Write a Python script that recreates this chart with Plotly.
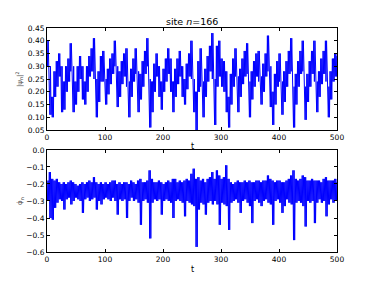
import numpy as np
import plotly.graph_objects as go

# Sample times of the envelope readings (every 4 time units)
t_env = list(range(0, 501, 4))

# |psi_n|^2 : upper / lower edge of the dense trace, read at t_env
psi2_hi = [
    0.40, 0.30, 0.18, 0.28, 0.32, 0.35, 0.30, 0.24, 0.30, 0.33,
    0.39, 0.30, 0.24, 0.30, 0.34, 0.30, 0.24, 0.30, 0.34, 0.37,
    0.41, 0.25, 0.28, 0.34, 0.36, 0.25, 0.29, 0.33, 0.35, 0.40,
    0.30, 0.28, 0.32, 0.35, 0.37, 0.24, 0.29, 0.33, 0.37, 0.28,
    0.27, 0.32, 0.36, 0.41, 0.25, 0.24, 0.31, 0.35, 0.30, 0.24,
    0.29, 0.33, 0.37, 0.33, 0.24, 0.29, 0.33, 0.36, 0.30, 0.25,
    0.31, 0.35, 0.40, 0.25, 0.20, 0.32, 0.37, 0.24, 0.29, 0.34,
    0.38, 0.43, 0.25, 0.38, 0.40, 0.33, 0.32, 0.28, 0.18, 0.27,
    0.33, 0.37, 0.26, 0.29, 0.33, 0.36, 0.39, 0.24, 0.28, 0.32,
    0.35, 0.36, 0.26, 0.31, 0.35, 0.42, 0.30, 0.20, 0.27, 0.32,
    0.35, 0.24, 0.28, 0.32, 0.36, 0.41, 0.22, 0.27, 0.32, 0.36,
    0.40, 0.22, 0.27, 0.32, 0.36, 0.40, 0.24, 0.28, 0.33, 0.36,
    0.40, 0.22, 0.28, 0.33, 0.35, 0.34,
]
psi2_lo = [
    0.30, 0.11, 0.10, 0.18, 0.22, 0.26, 0.12, 0.13, 0.20, 0.24,
    0.28, 0.12, 0.15, 0.20, 0.25, 0.17, 0.15, 0.20, 0.26, 0.28,
    0.25, 0.10, 0.16, 0.24, 0.24, 0.15, 0.19, 0.23, 0.27, 0.30,
    0.14, 0.18, 0.23, 0.26, 0.22, 0.10, 0.18, 0.24, 0.27, 0.12,
    0.17, 0.22, 0.27, 0.30, 0.06, 0.12, 0.20, 0.26, 0.18, 0.13,
    0.20, 0.24, 0.27, 0.20, 0.12, 0.18, 0.23, 0.26, 0.18, 0.15,
    0.21, 0.26, 0.25, 0.12, 0.05, 0.20, 0.22, 0.10, 0.18, 0.24,
    0.28, 0.25, 0.07, 0.22, 0.26, 0.22, 0.20, 0.12, 0.06, 0.15,
    0.22, 0.26, 0.12, 0.18, 0.23, 0.26, 0.27, 0.10, 0.17, 0.22,
    0.26, 0.24, 0.15, 0.20, 0.26, 0.28, 0.14, 0.07, 0.15, 0.22,
    0.24, 0.11, 0.16, 0.22, 0.27, 0.28, 0.06, 0.15, 0.22, 0.27,
    0.28, 0.09, 0.16, 0.22, 0.27, 0.24, 0.12, 0.18, 0.23, 0.27,
    0.24, 0.10, 0.17, 0.24, 0.26, 0.22,
]

# phase velocity : upper / lower edge of the dense trace, read at t_env
phidot_hi = [
    -0.18, -0.13, -0.17, -0.18, -0.17, -0.19, -0.20, -0.19, -0.20, -0.19,
    -0.18, -0.19, -0.20, -0.21, -0.20, -0.19, -0.20, -0.19, -0.18, -0.19,
    -0.16, -0.19, -0.20, -0.19, -0.20, -0.19, -0.20, -0.19, -0.18, -0.18,
    -0.20, -0.19, -0.20, -0.19, -0.19, -0.20, -0.18, -0.19, -0.20, -0.18,
    -0.17, -0.19, -0.19, -0.18, -0.12, -0.17, -0.19, -0.19, -0.18, -0.19,
    -0.20, -0.19, -0.18, -0.19, -0.17, -0.17, -0.19, -0.18, -0.19, -0.18,
    -0.17, -0.18, -0.14, -0.11, -0.17, -0.16, -0.18, -0.17, -0.19, -0.17,
    -0.16, -0.13, -0.17, -0.12, -0.15, -0.17, -0.16, -0.09, -0.17, -0.19,
    -0.20, -0.19, -0.18, -0.19, -0.19, -0.18, -0.19, -0.18, -0.19, -0.19,
    -0.18, -0.18, -0.19, -0.18, -0.18, -0.15, -0.17, -0.18, -0.19, -0.18,
    -0.18, -0.19, -0.19, -0.18, -0.17, -0.15, -0.12, -0.17, -0.18, -0.17,
    -0.15, -0.16, -0.18, -0.18, -0.17, -0.18, -0.18, -0.18, -0.19, -0.17,
    -0.16, -0.18, -0.18, -0.18, -0.17, -0.19,
]
phidot_lo = [
    -0.30, -0.40, -0.41, -0.34, -0.31, -0.29, -0.30, -0.35, -0.29, -0.28,
    -0.32, -0.30, -0.28, -0.29, -0.30, -0.37, -0.29, -0.28, -0.30, -0.29,
    -0.28, -0.35, -0.30, -0.32, -0.29, -0.28, -0.29, -0.30, -0.28, -0.30,
    -0.38, -0.29, -0.30, -0.29, -0.40, -0.30, -0.28, -0.30, -0.29, -0.31,
    -0.44, -0.30, -0.29, -0.31, -0.52, -0.31, -0.29, -0.30, -0.29, -0.38,
    -0.30, -0.29, -0.30, -0.31, -0.40, -0.30, -0.29, -0.30, -0.31, -0.39,
    -0.30, -0.31, -0.32, -0.33, -0.57, -0.35, -0.31, -0.32, -0.38, -0.31,
    -0.30, -0.32, -0.30, -0.32, -0.44, -0.31, -0.32, -0.33, -0.47, -0.31,
    -0.30, -0.29, -0.31, -0.37, -0.30, -0.29, -0.31, -0.33, -0.43, -0.30,
    -0.29, -0.31, -0.33, -0.30, -0.29, -0.31, -0.32, -0.44, -0.30, -0.29,
    -0.31, -0.37, -0.33, -0.29, -0.31, -0.32, -0.53, -0.31, -0.30, -0.31,
    -0.33, -0.45, -0.30, -0.31, -0.30, -0.43, -0.31, -0.29, -0.31, -0.30,
    -0.39, -0.32, -0.29, -0.31, -0.30, -0.29,
]

top_ticks = [0.05, 0.10, 0.15, 0.20, 0.25, 0.30, 0.35, 0.40, 0.45]
bot_ticks = [-0.6, -0.5, -0.4, -0.3, -0.2, -0.1, 0.0]
x_ticks = [0, 100, 200, 300, 400, 500]


def zigzag(t, hi, lo):
    """Dense trace: oscillates between the read upper and lower edges
    (two full swings inside each 4-unit reading interval)."""
    xs, ys = [], []
    for ti, h, l in zip(t, hi, lo):
        xs += [ti, ti + 1, ti + 2, ti + 3]
        ys += [h, l, h, l]
    return xs, ys


x1, y1 = zigzag(t_env, psi2_hi, psi2_lo)
x2, y2 = zigzag(t_env, phidot_hi, phidot_lo)

fig = go.Figure()
fig.add_trace(go.Scatter(x=x1, y=y1, mode="lines", xaxis="x", yaxis="y",
                         line=dict(color="#0000ff", width=1)))
fig.add_trace(go.Scatter(x=x2, y=y2, mode="lines", xaxis="x2", yaxis="y2",
                         line=dict(color="#0000ff", width=1)))

tick_font = dict(family="DejaVu Sans", size=7.5, color="black")
axis_common = dict(showline=True, linecolor="black", linewidth=1, mirror="ticks",
                   ticks="inside", ticklen=3, tickcolor="black", showgrid=False,
                   zeroline=False, tickfont=tick_font, automargin=False)

# page body has an 8px margin, so the figure is sized to sit inside the window
fig.update_layout(
    width=358, height=266,
    margin=dict(l=39, r=29, t=20, b=22),
    paper_bgcolor="white", plot_bgcolor="white",
    showlegend=False,
    font=dict(family="DejaVu Sans", size=8, color="black"),
    xaxis=dict(domain=[0, 1], anchor="y", range=[0, 500], tickvals=x_ticks, **axis_common),
    yaxis=dict(domain=[0.5446, 1], anchor="x", range=[0.05, 0.45], tickvals=top_ticks,
               tickformat=".2f", **axis_common),
    xaxis2=dict(domain=[0, 1], anchor="y2", range=[0, 500], tickvals=x_ticks, **axis_common),
    yaxis2=dict(domain=[0, 0.4554], anchor="x2", range=[-0.6, 0.0], tickvals=bot_ticks,
                tickformat=".1f", **axis_common),
)

annotations = [
    dict(text="site <i>n</i>=166", x=0.5, y=1.028, xref="paper", yref="paper",
         showarrow=False, font=dict(family="DejaVu Sans", size=9.5, color="black"),
         xanchor="center", yanchor="middle"),
    dict(text="t", x=0.5, y=0.473, xref="paper", yref="paper", showarrow=False,
         font=dict(family="DejaVu Sans", size=8, color="black"), xanchor="center", yanchor="middle"),
    dict(text="t", x=0.5, y=-0.076, xref="paper", yref="paper", showarrow=False,
         font=dict(family="DejaVu Sans", size=8, color="black"), xanchor="center", yanchor="middle"),
    dict(text="|ψ<sub>n</sub>|<sup>2</sup>", x=(19 - 47) / 290, y=0.772, xref="paper", yref="paper",
         showarrow=False, textangle=-90, font=dict(family="DejaVu Sans", size=7, color="#444"),
         xanchor="center", yanchor="middle"),
    dict(text="φ̇<sub>n</sub>", x=(20 - 47) / 290, y=0.228, xref="paper", yref="paper",
         showarrow=False, textangle=-90, font=dict(family="DejaVu Sans", size=7, color="#444"),
         xanchor="center", yanchor="middle"),
]
fig.update_layout(annotations=annotations)

fig.write_html("out.html")
